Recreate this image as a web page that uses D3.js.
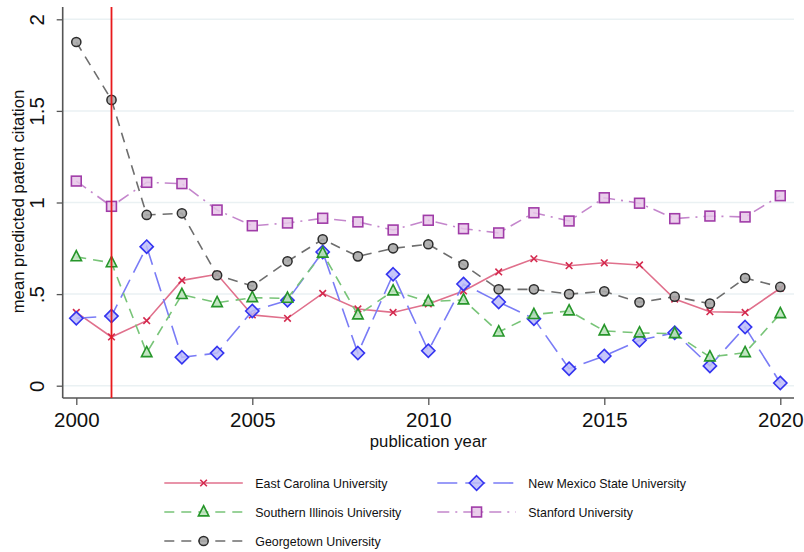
<!DOCTYPE html>
<html>
<head>
<meta charset="utf-8">
<script src="https://cdn.jsdelivr.net/npm/d3@7"></script>
<style>
  body { margin: 0; background: #fff; }
  svg { font-family: "Liberation Sans", Arial, sans-serif; }
</style>
</head>
<body>
<div id="chart"></div>
<script>
const years = d3.range(2000, 2021);
const xTicks = [2000, 2005, 2010, 2015, 2020];
const yTicks = [0, 0.5, 1, 1.5, 2];
const yTickLabels = ['0', '.5', '1', '1.5', '2'];

const eastCarolina = [0.40, 0.266, 0.355, 0.575, 0.608, 0.386, 0.368, 0.504, 0.419, 0.40, 0.446,
  0.517, 0.621, 0.693, 0.655, 0.671, 0.659, 0.473, 0.404, 0.40, 0.532];
const newMexico = [0.368, 0.38, 0.759, 0.155, 0.178, 0.408, 0.466, 0.73, 0.178, 0.608, 0.191,
  0.555, 0.457, 0.366, 0.093, 0.162, 0.248, 0.289, 0.108, 0.32, 0.015];
const southernIllinois = [0.703, 0.671, 0.18, 0.497, 0.453, 0.48, 0.477, 0.723, 0.386, 0.517, 0.459,
  0.468, 0.293, 0.388, 0.408, 0.299, 0.288, 0.284, 0.157, 0.18, 0.393];
const stanford = [1.117, 0.979, 1.11, 1.103, 0.959, 0.873, 0.888, 0.914, 0.894, 0.85, 0.903,
  0.857, 0.834, 0.944, 0.899, 1.026, 0.996, 0.912, 0.926, 0.921, 1.037];
const georgetown = [1.876, 1.56, 0.932, 0.941, 0.603, 0.544, 0.679, 0.799, 0.706, 0.75, 0.772,
  0.661, 0.526, 0.526, 0.50, 0.515, 0.455, 0.486, 0.448, 0.588, 0.539];
const markYear = 2001;

const series = [
  { name: 'East Carolina University', values: eastCarolina, line: '#e0708c', dash: null,
    shape: 'x', stroke: '#d42a4e', fill: 'none' },
  { name: 'New Mexico State University', values: newMexico, line: '#7a7cf6', dash: '20,8',
    shape: 'diamond', stroke: '#3434f0', fill: '#bcbcf8' },
  { name: 'Southern Illinois University', values: southernIllinois, line: '#78c478', dash: '10,7',
    shape: 'triangle', stroke: '#26962a', fill: '#b8e0b8' },
  { name: 'Stanford University', values: stanford, line: '#c486cc', dash: '12,6,2,6',
    shape: 'square', stroke: '#a03ca8', fill: '#e6c6e8' },
  { name: 'Georgetown University', values: georgetown, line: '#6e6e6e', dash: '10,7',
    shape: 'circle', stroke: '#2c2c2c', fill: '#a8a8a8' },
];

const width = 804, height = 552;
const svg = d3.select('#chart').append('svg')
  .attr('width', width)
  .attr('height', height);

const x = d3.scaleLinear().domain([2000, 2020]).range([76.3, 780.3]);
const y = d3.scaleLinear().domain([0, 2]).range([385.7, 19.3]);
const plotLeft = 62.7, plotRight = 794, plotTop = 7, plotBottom = 398;

// gridlines
svg.append('g')
  .selectAll('line')
  .data(yTicks)
  .enter().append('line')
    .attr('x1', plotLeft).attr('x2', plotRight)
    .attr('y1', d => y(d)).attr('y2', d => y(d))
    .attr('stroke', '#eaf1f3')
    .attr('stroke-width', 1.5);

// axes
const yAxis = svg.append('g')
  .attr('transform', `translate(${plotLeft},0)`)
  .call(d3.axisLeft(y).tickValues(yTicks).tickFormat((d, i) => yTickLabels[i]).tickSize(6).tickSizeOuter(0));
yAxis.select('.domain').remove();
yAxis.append('line')
  .attr('x1', 0).attr('x2', 0).attr('y1', plotTop).attr('y2', plotBottom)
  .attr('stroke', '#555').attr('stroke-width', 1.6);
yAxis.selectAll('.tick line').attr('stroke', '#555').attr('stroke-width', 1.3);
yAxis.selectAll('.tick text')
  .attr('x', 0).attr('dy', 0)
  .attr('transform', 'translate(-18.7,0) rotate(-90)')
  .attr('text-anchor', 'middle')
  .attr('font-size', 20.5)
  .attr('fill', '#111');

const xAxis = svg.append('g')
  .attr('transform', `translate(0,${plotBottom})`)
  .call(d3.axisBottom(x).tickValues(xTicks).tickFormat(d3.format('d')).tickSize(7).tickSizeOuter(0));
xAxis.select('.domain').remove();
xAxis.append('line')
  .attr('x1', plotLeft).attr('x2', plotRight).attr('y1', 0).attr('y2', 0)
  .attr('stroke', '#555').attr('stroke-width', 1.6);
xAxis.selectAll('.tick line').attr('stroke', '#555').attr('stroke-width', 1.3);
xAxis.selectAll('.tick text')
  .attr('y', 28.7).attr('dy', 0)
  .attr('font-size', 20.5)
  .attr('fill', '#111');

// axis titles
svg.append('text')
  .attr('transform', 'translate(24,201.5) rotate(-90)')
  .attr('text-anchor', 'middle')
  .attr('font-size', 16.7)
  .attr('fill', '#111')
  .text('mean predicted patent citation');

svg.append('text')
  .attr('x', (x(2000) + x(2020)) / 2)
  .attr('y', 446.5)
  .attr('text-anchor', 'middle')
  .attr('font-size', 16.7)
  .attr('fill', '#111')
  .text('publication year');

function drawMarker(g, shape, stroke, fill, cx, cy, scale) {
  const s = scale || 1;
  if (shape === 'x') {
    const r = 3.3 * s;
    g.append('path')
      .attr('d', `M${cx - r},${cy - r}L${cx + r},${cy + r}M${cx - r},${cy + r}L${cx + r},${cy - r}`)
      .attr('stroke', stroke).attr('stroke-width', 1.6).attr('fill', 'none');
  } else if (shape === 'diamond') {
    const r = 6.6 * s;
    g.append('path')
      .attr('d', `M${cx},${cy - r}L${cx + r},${cy}L${cx},${cy + r}L${cx - r},${cy}Z`)
      .attr('stroke', stroke).attr('stroke-width', 1.6).attr('fill', fill).attr('fill-opacity', 0.85);
  } else if (shape === 'triangle') {
    const r = 6.3 * s;
    g.append('path')
      .attr('d', `M${cx},${cy - r}L${cx + r * 0.83},${cy + r * 0.62}L${cx - r * 0.83},${cy + r * 0.62}Z`)
      .attr('stroke', stroke).attr('stroke-width', 1.6).attr('fill', fill).attr('fill-opacity', 0.85);
  } else if (shape === 'square') {
    const r = 4.9 * s;
    g.append('rect')
      .attr('x', cx - r).attr('y', cy - r).attr('width', 2 * r).attr('height', 2 * r)
      .attr('stroke', stroke).attr('stroke-width', 1.6).attr('fill', fill).attr('fill-opacity', 0.85);
  } else if (shape === 'circle') {
    g.append('circle')
      .attr('cx', cx).attr('cy', cy).attr('r', 4.6 * s)
      .attr('stroke', stroke).attr('stroke-width', 1.5).attr('fill', fill).attr('fill-opacity', 0.9);
  }
}

const line = d3.line()
  .x((d, i) => x(years[i]))
  .y(d => y(d));

series.forEach(s => {
  const g = svg.append('g');
  g.append('path')
    .attr('d', line(s.values))
    .attr('fill', 'none')
    .attr('stroke', s.line)
    .attr('stroke-width', 1.6)
    .attr('stroke-dasharray', s.dash);
  s.values.forEach((v, i) => drawMarker(g, s.shape, s.stroke, s.fill, x(years[i]), y(v)));
});

// reference line
svg.append('line')
  .attr('x1', x(markYear)).attr('x2', x(markYear))
  .attr('y1', plotTop).attr('y2', plotBottom)
  .attr('stroke', '#e8191c')
  .attr('stroke-width', 1.8);

// legend
const legendCols = [164.3, 437.3];
const legendRows = [483, 512, 541];
const legend = svg.append('g');
series.forEach((s, i) => {
  const lx = legendCols[i % 2];
  const ly = legendRows[Math.floor(i / 2)];
  const g = legend.append('g');
  g.append('line')
    .attr('x1', lx).attr('x2', lx + 78.5)
    .attr('y1', ly).attr('y2', ly)
    .attr('stroke', s.line)
    .attr('stroke-width', 1.6)
    .attr('stroke-dasharray', s.dash);
  drawMarker(g, s.shape, s.stroke, s.fill, lx + 39.3, ly, s.shape === 'diamond' ? 1.1 : 1);
  g.append('text')
    .attr('x', lx + 91)
    .attr('y', ly + 4.5)
    .attr('font-size', 12.4)
    .attr('fill', '#111')
    .text(s.name);
});
</script>
</body>
</html>
